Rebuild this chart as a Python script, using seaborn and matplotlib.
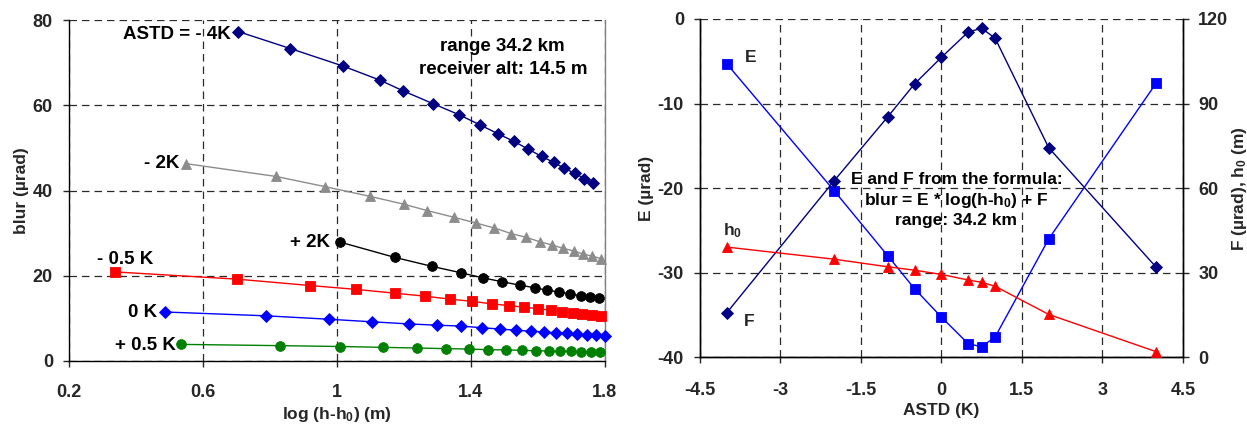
import matplotlib
matplotlib.use("Agg")
import matplotlib.pyplot as plt
import seaborn as sns
import pandas as pd

# ---- left panel: blur versus log(h-h0) for each air-sea temperature difference ----
m4k_x = [0.705, 0.861, 1.018, 1.128, 1.197, 1.286, 1.364, 1.427, 1.481, 1.529, 1.571,
         1.611, 1.647, 1.679, 1.711, 1.738, 1.765]
m4k_y = [77.3, 73.3, 69.2, 65.9, 63.4, 60.4, 57.8, 55.4, 53.3, 51.5, 49.7,
         48.0, 46.6, 45.2, 44.0, 42.8, 41.7]

m2k_x = [0.550, 0.818, 0.965, 1.100, 1.199, 1.269, 1.350, 1.414, 1.470, 1.520, 1.565,
         1.605, 1.643, 1.676, 1.708, 1.735, 1.762, 1.789]
m2k_y = [46.3, 43.3, 40.9, 38.6, 36.8, 35.3, 33.7, 32.4, 31.2, 29.9, 29.0,
         28.0, 27.2, 26.4, 25.8, 25.1, 24.6, 24.0]

p2k_x = [1.009, 1.173, 1.284, 1.370, 1.436, 1.493, 1.545, 1.590, 1.628, 1.664, 1.697,
         1.728, 1.756, 1.783]
p2k_y = [27.9, 24.3, 22.2, 20.7, 19.5, 18.6, 17.8, 17.2, 16.6, 16.2, 15.7,
         15.3, 15.0, 14.7]

m05k_x = [0.337, 0.702, 0.921, 1.057, 1.174, 1.264, 1.338, 1.404, 1.462, 1.514, 1.559,
          1.600, 1.638, 1.672, 1.704, 1.733, 1.761, 1.788]
m05k_y = [20.9, 19.2, 17.7, 16.8, 15.9, 15.2, 14.5, 14.0, 13.4, 13.0, 12.6,
          12.3, 11.9, 11.6, 11.3, 11.0, 10.7, 10.5]

z0k_x = [0.486, 0.788, 0.975, 1.104, 1.214, 1.298, 1.370, 1.432, 1.487, 1.536, 1.579,
         1.619, 1.654, 1.687, 1.718, 1.746, 1.774, 1.800]
z0k_y = [11.5, 10.6, 9.8, 9.2, 8.7, 8.4, 8.2, 7.8, 7.5, 7.2, 7.0,
         6.8, 6.6, 6.5, 6.3, 6.1, 6.0, 5.9]

p05k_x = [0.534, 0.829, 1.010, 1.138, 1.238, 1.325, 1.395, 1.452, 1.504, 1.551, 1.593,
          1.632, 1.666, 1.699, 1.729, 1.758, 1.785]
p05k_y = [3.9, 3.6, 3.4, 3.2, 3.05, 2.9, 2.8, 2.65, 2.6, 2.5, 2.4,
          2.35, 2.3, 2.25, 2.2, 2.2, 2.15]

left_xticks = [0.2, 0.6, 1.0, 1.4, 1.8]
left_xticklabels = ["0.2", "0.6", "1", "1.4", "1.8"]
left_yticks = [0, 20, 40, 60, 80]

# ---- right panel: fitted coefficients versus ASTD ----
astd = [-4, -2, -1, -0.5, 0, 0.5, 0.75, 1, 2, 4]
coef_E = [-5.3, -20.3, -28.0, -31.9, -35.25, -38.4, -38.75, -37.6, -26.0, -7.6]
coef_F = [15.8, 62.6, 85.3, 97.0, 106.4, 115.4, 116.7, 113.2, 74.3, 32.0]
h0_m = [39.1, 34.8, 32.1, 30.9, 29.4, 27.4, 26.6, 25.2, 15.2, 2.0]

right_xticks = [-4.5, -3, -1.5, 0, 1.5, 3, 4.5]
right_xticklabels = ["-4.5", "-3", "-1.5", "0", "1.5", "3", "4.5"]
right_yticks = [-40, -30, -20, -10, 0]
right_y2ticks = [0, 30, 60, 90, 120]

sns.set_style("white")
plt.rcParams["font.family"] = ["Liberation Sans", "DejaVu Sans"]
plt.rcParams["font.weight"] = "bold"
plt.rcParams["axes.labelweight"] = "bold"
plt.rcParams["axes.unicode_minus"] = False
plt.rcParams["mathtext.fontset"] = "custom"
plt.rcParams["mathtext.rm"] = "Liberation Sans:bold"
plt.rcParams["mathtext.bf"] = "Liberation Sans:bold"
plt.rcParams["mathtext.default"] = "bf"

TICK_FS = 13
LABEL_FS = 12.5
NOTE_FS = 13.5
GRID = dict(color="#2a2a2a", linestyle=(0, (6, 4)), linewidth=0.9)

fig = plt.figure(figsize=(12.47, 4.24), dpi=100)
axL = fig.add_axes([0.0553, 0.1486, 0.4298, 0.8042])
axR = fig.add_axes([0.5613, 0.1573, 0.3873, 0.7979])


def draw(ax, x, y, color, marker, ms):
    df = pd.DataFrame({"x": x, "y": y})
    sns.lineplot(data=df, x="x", y="y", ax=ax, color=color, marker=marker,
                 markersize=ms, markeredgecolor=color, markeredgewidth=0.6,
                 linewidth=1.0, zorder=3, clip_on=False)


def style_ticks(ax, xpad):
    ax.tick_params(axis="x", labelsize=TICK_FS, direction="out", length=4.5,
                   width=1, bottom=True, pad=xpad)
    ax.tick_params(axis="y", labelsize=TICK_FS, direction="out", length=4.5,
                   width=1, left=True, pad=7)


draw(axL, m4k_x, m4k_y, "#000080", "D", 6.0)
draw(axL, m2k_x, m2k_y, "#8c8c8c", "^", 7.0)
draw(axL, p2k_x, p2k_y, "#000000", "o", 7.0)
draw(axL, m05k_x, m05k_y, "#ff0000", "s", 6.5)
draw(axL, z0k_x, z0k_y, "#0000ff", "D", 6.0)
draw(axL, p05k_x, p05k_y, "#008000", "o", 7.0)

axL.set_xlim(0.2, 1.8)
axL.set_ylim(0, 80)
axL.set_xticks(left_xticks)
axL.set_xticklabels(left_xticklabels)
axL.set_yticks(left_yticks)
axL.grid(True, **GRID)
axL.set_axisbelow(True)
axL.set_xlabel("log (h-h$_0$) (m)", fontsize=LABEL_FS, labelpad=3)
axL.set_ylabel("blur (µrad)", fontsize=LABEL_FS, labelpad=3)
style_ticks(axL, 12)
for s in ("left", "bottom"):
    axL.spines[s].set_color("black")
    axL.spines[s].set_linewidth(1.0)
axL.spines["top"].set_visible(False)
axL.spines["right"].set_color("#808080")
axL.spines["right"].set_linewidth(1.0)

txt = dict(fontsize=NOTE_FS, fontweight="bold", color="black")
axL.text(0.683, 76.6, "ASTD = - 4K", ha="right", va="center", **txt)
axL.text(0.531, 46.3, "- 2K", ha="right", va="center", **txt)
axL.text(0.979, 27.9, "+ 2K", ha="right", va="center", **txt)
axL.text(0.367, 23.7, "- 0.5 K", ha="center", va="center", **txt)
axL.text(0.463, 11.3, "0 K", ha="right", va="center", **txt)
axL.text(0.519, 3.6, "+ 0.5 K", ha="right", va="center", **txt)
axL.text(1.495, 71.0, "range 34.2 km\nreceiver alt: 14.5 m", ha="center",
         va="center", linespacing=1.45, **txt)

# right panel, E on the left axis, F and h0 on the secondary axis
axR2 = axR.twinx()
draw(axR, astd, coef_E, "#0000ff", "s", 6.5)
draw(axR2, astd, coef_F, "#000080", "D", 6.0)
draw(axR2, astd, h0_m, "#ff0000", "^", 7.0)

axR.set_xlim(-4.5, 4.5)
axR.set_ylim(-40, 0)
axR2.set_ylim(0, 120)
axR.set_xticks(right_xticks)
axR.set_xticklabels(right_xticklabels)
axR.set_yticks(right_yticks)
axR2.set_yticks(right_y2ticks)
axR.grid(True, **GRID)
axR.set_axisbelow(True)
axR2.grid(False)
axR.set_xlabel("ASTD (K)", fontsize=LABEL_FS, labelpad=3)
axR.set_ylabel("E (µrad)", fontsize=LABEL_FS, labelpad=3)
axR2.set_ylabel("F (µrad), h$_0$ (m)", fontsize=LABEL_FS, labelpad=1)
style_ticks(axR, 13)
axR2.tick_params(axis="y", labelsize=TICK_FS, direction="out", length=4.5,
                 width=1, right=True, pad=6.5)
for a in (axR, axR2):
    for s in ("left", "bottom", "right"):
        a.spines[s].set_color("black")
        a.spines[s].set_linewidth(1.0)
    a.spines["top"].set_visible(False)

axR.text(-3.66, -4.6, "E", ha="left", va="center", fontsize=LABEL_FS, fontweight="bold")
axR.text(-3.68, -35.8, "F", ha="left", va="center", fontsize=LABEL_FS, fontweight="bold")
axR.text(-3.89, -25.0, "h$_0$", ha="center", va="center", fontsize=LABEL_FS,
         fontweight="bold")
axR.text(0.28, -21.4, "E and F from the formula:\nblur = E * log(h-h$_0$) + F\nrange: 34.2 km",
         ha="center", va="center", linespacing=1.3, fontsize=12.5, fontweight="bold",
         color="black")

fig.savefig("out.png", dpi=100)
